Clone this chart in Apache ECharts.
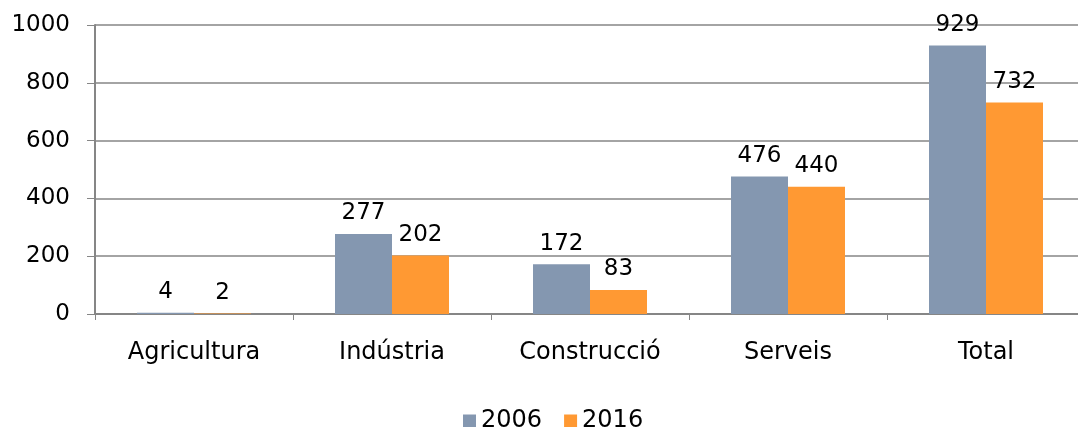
<!DOCTYPE html>
<html>
<head>
<meta charset="utf-8">
<script src="https://cdn.jsdelivr.net/npm/echarts@6/dist/echarts.min.js"></script>
<style>
  html, body { margin: 0; padding: 0; background: #fff; }
  #chart { width: 1078px; height: 427px; }
</style>
</head>
<body>
<div id="chart"></div>
<script>
const categories = ['Agricultura', 'Indústria', 'Construcció', 'Serveis', 'Total'];
const values2006 = [4, 277, 172, 476, 929];
const values2016 = [2, 202, 83, 440, 732];
const yTicks = { min: 0, max: 1000, interval: 200 };

const axisColor = '#868686';
const font = 'DejaVu Sans, Verdana, sans-serif';

const chart = echarts.init(document.getElementById('chart'), null, { renderer: 'canvas' });

const labelStyle = {
    show: true,
    position: 'top',
    distance: 9,
    color: '#000',
    fontFamily: font,
    fontSize: 23
};

chart.setOption({
    backgroundColor: '#fff',
    animation: false,
    grid: { left: 95, top: 25, width: 990, height: 289, outerBoundsMode: 'none' },
    legend: {
        top: 404,
        left: 458,
        itemWidth: 13,
        itemHeight: 13,
        itemGap: 22,
        itemTextGap: 6,
        icon: 'rect',
        textStyle: { fontFamily: font, fontSize: 24, color: '#000' },
        data: ['2006', '2016']
    },
    xAxis: {
        type: 'category',
        data: categories,
        axisLine: { lineStyle: { color: axisColor, width: 2 } },
        axisTick: { show: true, length: 6, lineStyle: { color: axisColor } },
        axisLabel: { color: '#000', fontFamily: font, fontSize: 24, margin: 27 }
    },
    yAxis: {
        type: 'value',
        min: yTicks.min,
        max: yTicks.max,
        interval: yTicks.interval,
        axisLine: { show: true, lineStyle: { color: axisColor, width: 2 } },
        axisTick: { show: true, length: 8, lineStyle: { color: axisColor } },
        axisLabel: { color: '#000', fontFamily: font, fontSize: 23, margin: 25, formatter: v => String(v) },
        splitLine: { lineStyle: { color: axisColor, width: 1.5 } }
    },
    series: [
        {
            name: '2006',
            type: 'bar',
            data: values2006,
            barWidth: 57,
            barGap: '0%',
            itemStyle: { color: '#8497B0' },
            label: labelStyle
        },
        {
            name: '2016',
            type: 'bar',
            data: values2016,
            barWidth: 57,
            barGap: '0%',
            itemStyle: { color: '#FF9933' },
            label: labelStyle
        }
    ]
});
</script>
</body>
</html>
